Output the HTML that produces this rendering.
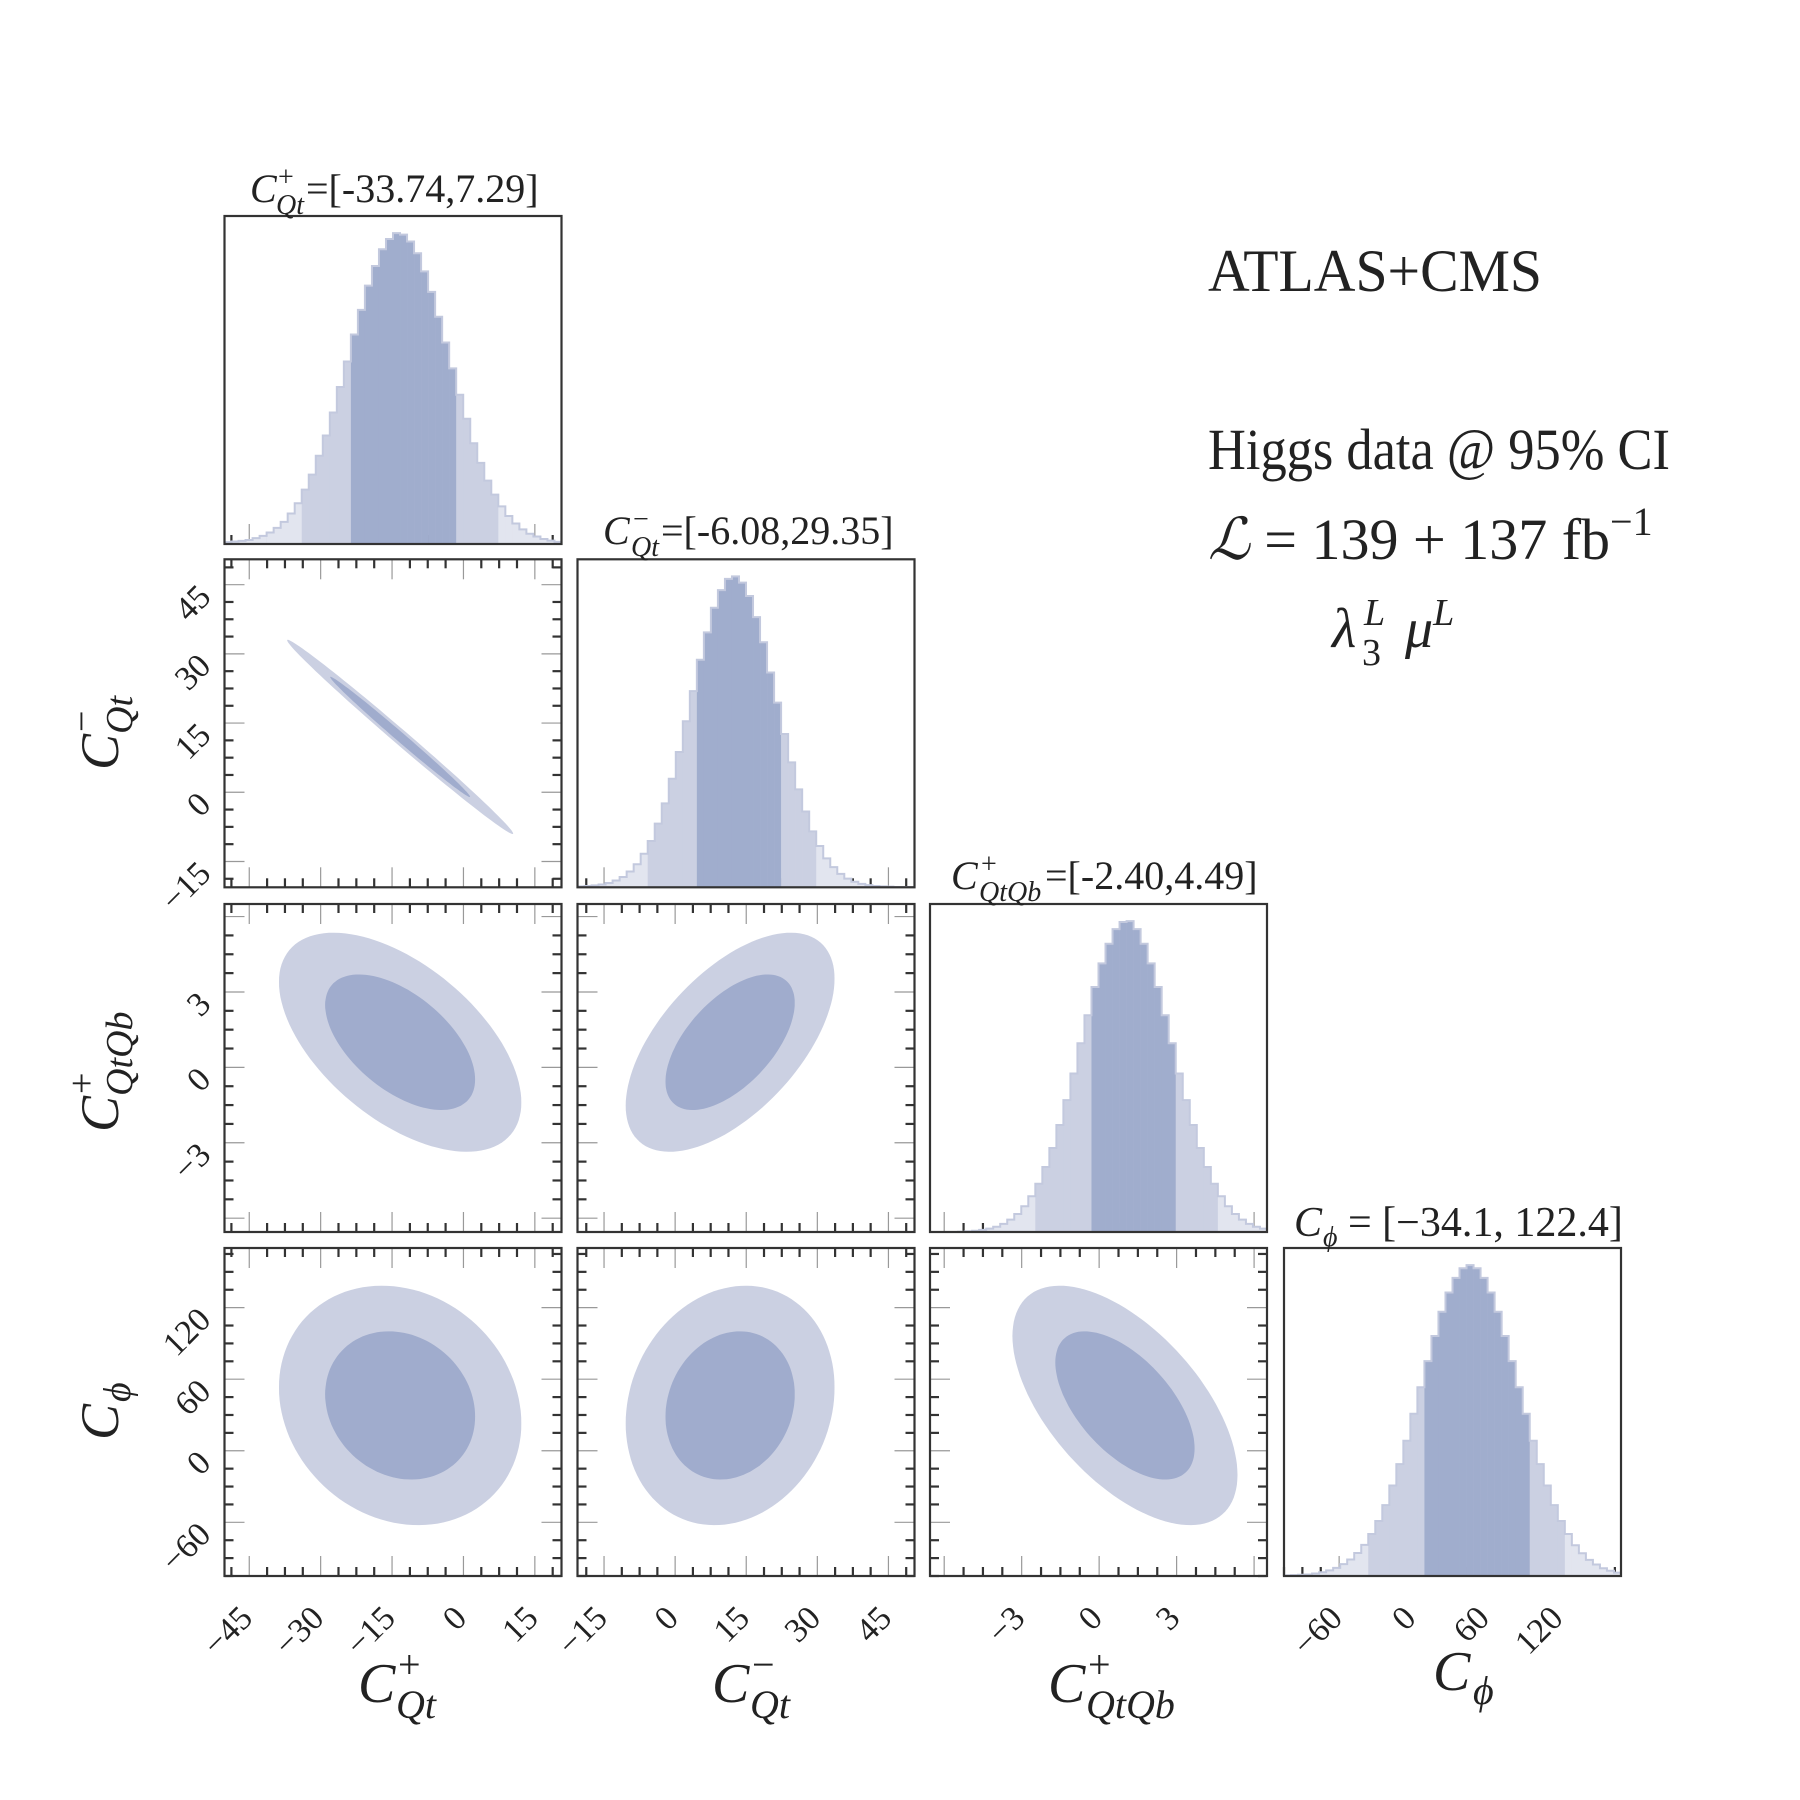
<!DOCTYPE html>
<html><head><meta charset="utf-8"><title>Corner plot</title>
<style>
html,body{margin:0;padding:0;background:#fff;}
svg{display:block;}
text{font-family:"Liberation Serif","DejaVu Serif",serif;fill:#222;}
.it{font-style:italic;}
</style></head>
<body>
<svg id="chart" width="1800" height="1800" viewBox="0 0 1800 1800" xmlns="http://www.w3.org/2000/svg">
<g id="panels"></g>
<g id="texts">
  <text x="1208" y="291" font-size="60" textLength="334" lengthAdjust="spacingAndGlyphs">ATLAS+CMS</text>
  <text x="1208" y="469" font-size="58" textLength="462" lengthAdjust="spacingAndGlyphs">Higgs data @ 95% CI</text>
  <text x="1208" y="559" font-size="58"><tspan class="it">ℒ</tspan> = 139 + 137 fb<tspan font-size="40" dy="-24">−1</tspan></text>
  <text x="1332" y="647" font-size="56" class="it">λ<tspan font-size="38" x="1364" dy="-22">L</tspan><tspan font-size="38" x="1362" dy="40" font-style="normal">3</tspan><tspan x="1405" dy="-18">μ</tspan><tspan font-size="38" dy="-22">L</tspan></text>

  <text x="250" y="202" font-size="40"><tspan class="it">C</tspan><tspan font-size="28" x="278" dy="-16">+</tspan><tspan font-size="28" class="it" x="276" dy="28">Qt</tspan><tspan x="306" dy="-12">=[-33.74,7.29]</tspan></text>
  <text x="603" y="544" font-size="40"><tspan class="it">C</tspan><tspan font-size="28" x="633" dy="-16">−</tspan><tspan font-size="28" class="it" x="631" dy="28">Qt</tspan><tspan x="661" dy="-12">=[-6.08,29.35]</tspan></text>
  <text x="951" y="889" font-size="40"><tspan class="it">C</tspan><tspan font-size="28" x="981" dy="-16">+</tspan><tspan font-size="28" class="it" x="979" dy="28">QtQb</tspan><tspan x="1045" dy="-12">=[-2.40,4.49]</tspan></text>
  <text x="1294" y="1236" font-size="42"><tspan class="it">C</tspan><tspan font-size="28" class="it" x="1323" dy="10">ϕ</tspan><tspan dy="-10"> = [−34.1, 122.4]</tspan></text>

  <text x="358" y="1702" font-size="56"><tspan class="it">C</tspan><tspan font-size="40" x="398" dy="-24">+</tspan><tspan font-size="40" class="it" x="396" dy="40">Qt</tspan></text>
  <text x="712" y="1702" font-size="56"><tspan class="it">C</tspan><tspan font-size="40" x="752" dy="-24">−</tspan><tspan font-size="40" class="it" x="750" dy="40">Qt</tspan></text>
  <text x="1048" y="1702" font-size="56"><tspan class="it">C</tspan><tspan font-size="40" x="1088" dy="-24">+</tspan><tspan font-size="40" class="it" x="1086" dy="40">QtQb</tspan></text>
  <text x="1433" y="1690" font-size="56"><tspan class="it">C</tspan><tspan font-size="40" class="it" x="1473" dy="14">ϕ</tspan></text>

  <g transform="translate(118,770) rotate(-90)"><text x="0" y="0" font-size="54"><tspan class="it">C</tspan><tspan font-size="38" x="38" dy="-24">−</tspan><tspan font-size="38" class="it" x="36" dy="38">Qt</tspan></text></g>
  <g transform="translate(118,1132) rotate(-90)"><text x="0" y="0" font-size="54"><tspan class="it">C</tspan><tspan font-size="38" x="38" dy="-24">+</tspan><tspan font-size="38" class="it" x="36" dy="38">QtQb</tspan></text></g>
  <g transform="translate(118,1440) rotate(-90)"><text x="0" y="0" font-size="54"><tspan class="it">C</tspan><tspan font-size="38" class="it" x="38" dy="12">ϕ</tspan></text></g>
</g>
</svg>
<script>
// ---- data ----
const paramNames = ["cqtplus","cqtminus","cqtqbplus","cphi"];
const ranges = [[-50.2,20.6],[-20.6,50.5],[-6.55,6.5],[-105,170]];
const majorTicks = [[-45,-30,-15,0,15],[-15,0,15,30,45],[-3,0,3],[-60,0,60,120]];
const tickLabels = [["−45","−30","−15","0","15"],["−15","0","15","30","45"],["−3","0","3"],["−60","0","60","120"]];
const minorStep = [3.75,3.75,0.75,15];
const ci68Low = [-23.3, 4.4, -0.27, 11.2];
const ci68High = [-2.2, 21.9, 2.97, 93.9];
const ci95Low = [-33.74, -6.08, -2.40, -34.1];
const ci95High = [7.29, 29.35, 4.49, 122.4];
const hist1 = [0.6,0.8,1.0,1.3,1.9,2.6,3.7,5.2,7.1,9.8,13.1,17.5,22.3,28.4,34.9,42.3,50.5,58.7,67.4,75.3,83.1,89.4,94.8,98.1,100,99.5,97.3,93.5,87.7,81.1,73.1,64.8,56.5,48.0,40.3,32.4,26.1,20.4,15.9,12.1,9.0,6.6,4.7,3.3,2.4,1.6,1.1,0.7];
const hist2 = [0.3,0.4,0.6,0.9,1.4,2.2,3.3,5.1,7.4,10.8,14.9,20.5,27.0,34.9,43.5,53.4,63.1,73.2,82.0,89.9,95.6,99.2,100,98.0,93.7,86.9,78.8,69.1,59.4,49.3,40.2,31.5,24.4,18.0,13.3,9.3,6.5,4.3,2.8,1.8,1.1,0.7,0.4,0.3,0.2,0.1,0.1,0.1];
const hist3 = [0,0,0,0,0.1,0.2,0.4,0.7,1.1,1.7,2.6,4.0,5.8,8.3,11.5,15.5,20.9,27.0,34.4,42.4,51.0,60.7,69.7,78.8,86.4,92.7,97.4,99.7,100,97.4,92.7,86.4,78.8,69.7,60.7,51.0,42.4,34.4,27.0,20.9,15.5,11.5,8.3,5.8,4.0,2.6,1.7,1.1];
const hist4 = [0.2,0.3,0.4,0.5,0.8,1.2,1.8,2.6,3.8,5.3,7.4,10.0,13.5,17.7,22.8,29.1,36.0,43.5,52.2,60.7,69.1,77.2,85.0,91.2,95.9,99.0,100,99.0,95.9,91.2,85.0,77.2,69.1,60.7,52.2,43.5,36.0,29.1,22.8,17.7,13.5,9.9,7.3,5.2,3.7,2.5,1.7,1.1];
const histCounts = [hist1,hist2,hist3,hist4];
const means2d = [-13.3, 11.6, 1.0, 38];
const sigmas2d = [10.4, 9.0, 1.78, 41];
const pairRow = [1,2,2,3,3,3];
const pairCol = [0,0,1,0,1,2];
const pairCorr = [-0.995,-0.55,0.58,-0.15,0.15,-0.58];
const pairMeanX = [-13.3,-13.3,11.6,-13.3,11.6,1.0];
const pairMeanY = [12.0,1.0,1.0,38,38,38];
const pairSigX = [9.7,10.4,9.0,10.4,9.0,1.78];
const pairSigY = [8.6,1.78,1.78,41,41,41];
const contourLevels = [2.448, 1.515];

// ---- layout ----
const colLeft=[224.5,577.5,930,1284], panelW=337;
const rowTop=[216,559.3,904,1248], panelH=328;
const NS="http://www.w3.org/2000/svg";
const root=document.getElementById('panels');
function mk(tag,attrs,parent){const e=document.createElementNS(NS,tag);for(const k in attrs)e.setAttribute(k,attrs[k]);(parent||root).appendChild(e);return e;}
function xScale(p,v){const r=ranges[p];return colLeft[p]+(v-r[0])/(r[1]-r[0])*panelW;}
function yScale(row,p,v){const r=ranges[p];return rowTop[row]+panelH-(v-r[0])/(r[1]-r[0])*panelH;}

function drawTicks(g,row,col,isDiag){
  const L=colLeft[col],T=rowTop[row],R=L+panelW,B=T+panelH;
  const px=col;
  const r=ranges[px];
  let start=Math.ceil((r[0]-majorTicks[px][0])/minorStep[px]);
  for(let k=start;;k++){
    const v=majorTicks[px][0]+k*minorStep[px]; if(v>r[1])break;
    const isMaj=Math.abs(((v-majorTicks[px][0])/(minorStep[px]*4))%1)<1e-6;
    const x=xScale(px,v);
    const len=isMaj?20:9, col_=isMaj?'#999':'#333', w=isMaj?1.2:2.2;
    const t1=mk('line',{x1:x,x2:x,y1:B,y2:B-len,stroke:col_,'stroke-width':w},g);
    
    
    if(!isDiag){const t2=mk('line',{x1:x,x2:x,y1:T,y2:T+len,stroke:col_,'stroke-width':w},g);
      
      }
  }
  if(!isDiag){
    const py=row; const ry=ranges[py];
    let s2=Math.ceil((ry[0]-majorTicks[py][0])/minorStep[py]);
    for(let k=s2;;k++){
      const v=majorTicks[py][0]+k*minorStep[py]; if(v>ry[1])break;
      const isMaj=Math.abs(((v-majorTicks[py][0])/(minorStep[py]*4))%1)<1e-6;
      const y=yScale(row,py,v);
      const len=isMaj?20:9, c=isMaj?'#999':'#333', w=isMaj?1.2:2.2;
      const a=mk('line',{x1:L,x2:L+len,y1:y,y2:y,stroke:c,'stroke-width':w},g);
      
      
      const b=mk('line',{x1:R,x2:R-len,y1:y,y2:y,stroke:c,'stroke-width':w},g);
      
      
    }
  }
}
function drawFrame(g,row,col){
  const f=mk('rect',{x:colLeft[col],y:rowTop[row],width:panelW,height:panelH,fill:'none',stroke:'#333','stroke-width':2.2},g);
  
  
}

for(let p=0;p<4;p++){
  const g=mk('g',{});
  
  
  drawTicks(g,p,p,true);
  const counts=histCounts[p], n=counts.length, r=ranges[p], bw=(r[1]-r[0])/n;
  const T=rowTop[p], B=T+panelH, ymax=105.5;
  let outline='';
  for(let i=0;i<n;i++){
    const lo=r[0]+i*bw, hi=lo+bw, c=(lo+hi)/2;
    const x0=xScale(p,lo), x1=xScale(p,hi);
    const y=B-counts[i]/ymax*panelH;
    let fill='#e2e5ef';
    if(c>=ci95Low[p]&&c<=ci95High[p]) fill='#cbd0e2';
    if(c>=ci68Low[p]&&c<=ci68High[p]) fill='#a0adcd';
    const bar=mk('rect',{x:x0,y:y,width:x1-x0+0.3,height:B-y,fill:fill},g);
    
    
    outline+=(i===0?'M'+x0+','+B+' L':' L')+x0+','+y+' L'+x1+','+y;
  }
  outline+=' L'+xScale(p,r[1])+','+B;
  const ol=mk('path',{d:outline,fill:'none',stroke:'#c3c9de','stroke-width':2},g);
  
  
  drawFrame(g,p,p);
}

for(let k=0;k<pairRow.length;k++){
  const row=pairRow[k], col=pairCol[k], rho=pairCorr[k];
  const g=mk('g',{});
  
  
  const cp=mk('clipPath',{id:'clip'+k},g);
  mk('rect',{x:colLeft[col],y:rowTop[row],width:panelW,height:panelH},cp);
  const gc=mk('g',{'clip-path':'url(#clip'+k+')'},g);
  contourLevels.forEach((lev,li)=>{
    let d='';
    for(let s=0;s<=120;s++){
      const t=s/120*2*Math.PI;
      const vx=pairMeanX[k]+lev*pairSigX[k]*Math.cos(t);
      const vy=pairMeanY[k]+lev*pairSigY[k]*(rho*Math.cos(t)+Math.sqrt(1-rho*rho)*Math.sin(t));
      d+=(s===0?'M':'L')+xScale(col,vx).toFixed(1)+','+yScale(row,row,vy).toFixed(1);
    }
    const e=mk('path',{d:d+'Z',fill:li===0?'#cbd0e2':'#a0accd',stroke:'none'},gc);
    
    
  });
  drawTicks(g,row,col,false);
  drawFrame(g,row,col);
}

const tl=mk('g',{});


for(let p=0;p<4;p++){
  const B=rowTop[3]+panelH;
  majorTicks[p].forEach((v,i)=>{
    const x=xScale(p,v);
    const t=mk('text',{transform:'translate('+(x+5)+','+(B+44)+') rotate(-45)','text-anchor':'end','font-size':34},tl);
    t.textContent=tickLabels[p][i];
    
    
  });
}
for(let row=1;row<4;row++){
  majorTicks[row].forEach((v,i)=>{
    const y=yScale(row,row,v);
    const t=mk('text',{transform:'translate('+(colLeft[0]-12)+','+(y+14)+') rotate(-45)','text-anchor':'end','font-size':34},tl);
    t.textContent=tickLabels[row][i];
    
    
  });
}
</script>
</body></html>
